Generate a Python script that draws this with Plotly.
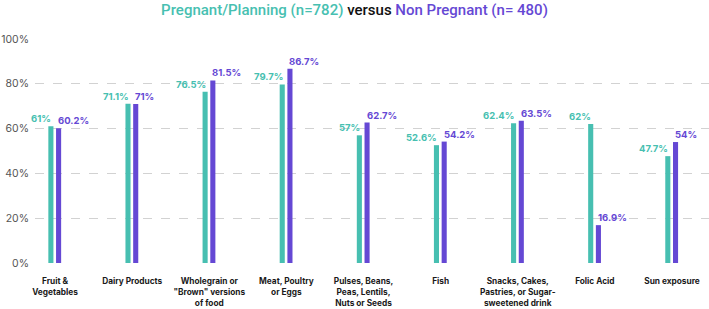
import plotly.graph_objects as go

categories = ["Fruit &<br>Vegetables", "Dairy Products", "Wholegrain or<br>\"Brown\" versions<br>of food",
              "Meat, Poultry<br>or Eggs", "Pulses, Beans,<br>Peas, Lentils,<br>Nuts or Seeds", "Fish",
              "Snacks, Cakes,<br>Pastries, or Sugar-<br>sweetened drink", "Folic Acid", "Sun exposure"]
pregnant = [61, 71.1, 76.5, 79.7, 57, 52.6, 62.4, 62, 47.7]
non_pregnant = [60.2, 71, 81.5, 86.7, 62.7, 54.2, 63.5, 16.9, 54]
y_ticks = [0, 20, 40, 60, 80, 100]

TEAL = "#47bfb1"
PURPLE = "#6548d4"

xs = list(range(len(categories)))
W = 0.066
OFF_T = -0.087
OFF_P = 0.013

fig = go.Figure()
fig.add_trace(go.Bar(x=xs, y=pregnant, width=W, offset=OFF_T, marker_color=TEAL,
                     marker_line_width=0, name="Pregnant/Planning"))
fig.add_trace(go.Bar(x=xs, y=non_pregnant, width=W, offset=OFF_P, marker_color=PURPLE,
                     marker_line_width=0, name="Non Pregnant"))

for i in xs:
    fig.add_annotation(x=i + OFF_T + W, y=pregnant[i], text=f"{pregnant[i]:g}%", showarrow=False,
                       xanchor="right", yanchor="bottom", yshift=0,
                       font=dict(family="Inter", size=9.5, color=TEAL, weight="bold"))
    fig.add_annotation(x=i + OFF_P, y=non_pregnant[i], text=f"{non_pregnant[i]:g}%", showarrow=False,
                       xanchor="left", yanchor="bottom", yshift=0,
                       font=dict(family="Inter", size=9.5, color=PURPLE, weight="bold"))

fig.update_layout(
    width=709, height=309,
    margin=dict(l=35, r=0, t=39, b=46),
    paper_bgcolor="white", plot_bgcolor="white",
    barmode="overlay", showlegend=False,
    title=dict(
        text=f"<span style='color:{TEAL}'>Pregnant/Planning (n=782)</span> "
             f"<span style='color:#111'>versus</span> "
             f"<span style='color:{PURPLE}'>Non Pregnant (n= 480)</span>",
        x=0.5, xanchor="center", y=0.97, yanchor="middle",
        font=dict(family="Roboto", size=15, weight=500),
    ),
    xaxis=dict(
        range=[-0.26, 8.48], tickvals=xs, ticktext=categories,
        showgrid=False, zeroline=False, showline=False, ticks="",
        ticklabelstandoff=12,
        tickfont=dict(family="Inter", size=8.3, color="#1a1a1a", weight="bold"),
    ),
    yaxis=dict(
        range=[0, 100], tickvals=y_ticks, ticktext=[f"{v}%" for v in y_ticks],
        showgrid=True, gridcolor="#d2d2d2", griddash="dash", gridwidth=1,
        zeroline=False, showline=False, ticks="",
        ticklabelstandoff=5,
        tickfont=dict(family="Inter", size=10.5, color="#555"),
    ),
)

fig.write_html("out.html")
